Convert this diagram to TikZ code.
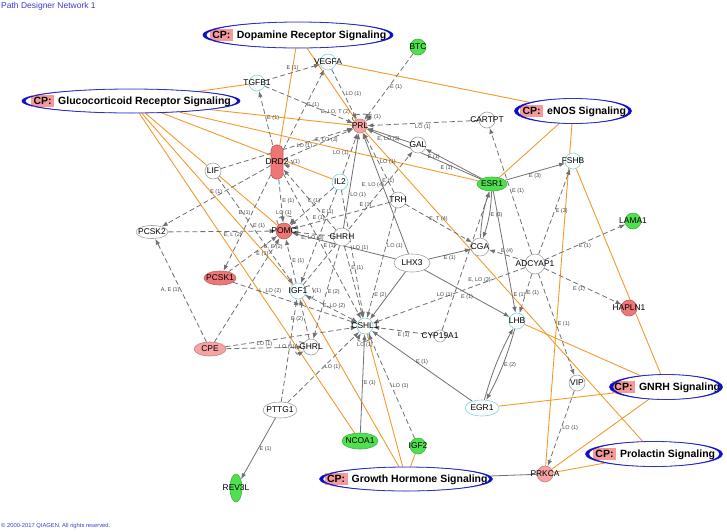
\documentclass[tikz,border=0pt]{standalone}
\usepackage{fontspec}
\setmainfont{Liberation Sans}
\usetikzlibrary{arrows.meta,shapes.geometric,backgrounds}
\definecolor{cpblue}{HTML}{3A3AD0}
\definecolor{cpdark}{HTML}{0A10C8}
\definecolor{cppink}{HTML}{F49A9A}
\definecolor{cporange}{HTML}{F39A2B}
\definecolor{redA}{HTML}{EE7676}
\definecolor{redB}{HTML}{F5A3A3}
\definecolor{greenA}{HTML}{4FE04F}
\definecolor{cyanline}{HTML}{7CD3D8}
\definecolor{plainline}{HTML}{A0A0A0}
\definecolor{edgegray}{HTML}{707070}
\definecolor{titleblue}{HTML}{3B3BD6}
\newcommand{\cptag}{{\setlength{\fboxsep}{2.5pt}\colorbox{cppink}{CP:}}\hspace{4pt}}
% canonical pathway ellipse with thick ends
\newcommand{\cpnode}[5]{%
  \node[cp, minimum width=#3pt, minimum height=#4pt,
    label={[cptext]center:\cptag #5}] (#1) at (#2) {};
  \begin{scope}
    \clip (#1.center) ++({-#3/2-3},{-#4/2-3}) rectangle ++({#3/2+3},{#4+6});
    \fill[cpdark, even odd rule] (#1.center) ellipse [x radius=#3*0.5pt, y radius=#4*0.5pt]
      ([xshift=3.5pt]#1.center) ellipse [x radius=#3*0.5pt, y radius=#4*0.5pt];
  \end{scope}
  \begin{scope}
    \clip (#1.center) ++({#3/2+3},{-#4/2-3}) rectangle ++({-#3/2-3},{#4+6});
    \fill[cpdark, even odd rule] (#1.center) ellipse [x radius=#3*0.5pt, y radius=#4*0.5pt]
      ([xshift=-3pt]#1.center) ellipse [x radius=#3*0.5pt, y radius=#4*0.5pt];
  \end{scope}}

\begin{document}
\begin{tikzpicture}[x=1pt, y=-1pt, >={Latex[length=6pt,width=4.5pt]},
  gene/.style={circle, minimum size=16pt, inner sep=0pt, line width=.6pt,
    label={[gtext]center:#1}},
  gtext/.style={font=\fontsize{8.4}{9}\selectfont, inner sep=0pt},
  gplain/.style={gene=#1, draw=plainline, fill=white},
  gblue/.style={gene=#1, draw=cyanline, fill=white},
  gred/.style={gene=#1, draw=redA!80!black, fill=redA},
  gpink/.style={gene=#1, draw=redB!80!black, fill=redB},
  ggreen/.style={gene=#1, draw=greenA!80!black, fill=greenA},
  cp/.style={ellipse, draw=cpblue, line width=.8pt, fill=white, inner sep=0pt},
  cptext/.style={font=\fontsize{10.5}{12}\selectfont\bfseries, inner sep=0pt},
  dep/.style={->, draw=edgegray, line width=.8pt, dash pattern=on 5pt off 3pt},
  act/.style={->, draw=edgegray, line width=.8pt},
  cpl/.style={draw=cporange, line width=.9pt},
  lbl/.style={font=\fontsize{5.5}{6}\selectfont, text=black!75, inner sep=1pt}]
\useasboundingbox (0,0) rectangle (727,531);

\node[anchor=north west, inner sep=0pt, text=titleblue, font=\fontsize{8.5}{10}\selectfont]
  (title) at (1,2) {Path Designer Network 1};
\node[anchor=south west, inner sep=0pt, text=titleblue, font=\fontsize{5.8}{7}\selectfont]
  (copy) at (1,529) {© 2000-2017 QIAGEN. All rights reserved.};

% pathways
\cpnode{dop}{298,35}{190}{26}{Dopamine Receptor Signaling}
\cpnode{glu}{131,101}{218}{24}{Glucocorticoid Receptor Signaling}
\cpnode{enos}{573,111}{117}{25}{eNOS Signaling}
\cpnode{gnrh}{666,387}{113}{25}{GNRH Signaling}
\cpnode{prol}{654,454}{137}{25}{Prolactin Signaling}
\cpnode{gh}{406,479}{173}{24}{Growth Hormone Signaling}

% molecules
\node[gblue=VEGFA] (vegfa) at (328,62) {};
\node[ggreen=BTC] (btc) at (418,47) {};
\node[gblue=TGFB1] (tgfb1) at (257,83) {};
\node[gpink=PRL, minimum size=14pt] (prl) at (360,126) {};
\node[gplain=CARTPT] (cartpt) at (487,120) {};
\node[gplain=GAL] (gal) at (418,145) {};
\node[gplain=LIF] (lif) at (213,171) {};
\node[gred=DRD2, rectangle, rounded corners=5pt, minimum width=12pt, minimum height=34pt] (drd2) at (277,162) {};
\node[gblue=IL2] (il2) at (340,182) {};
\node[ggreen=ESR1, ellipse, minimum width=30pt, minimum height=14pt] (esr1) at (492,184) {};
\node[gblue=FSHB] (fshb) at (573,161) {};
\node[gplain=TRH] (trh) at (398,200) {};
\node[gred=POMC] (pomc) at (284,231) {};
\node[gplain=PCSK2, ellipse, minimum width=32pt, minimum height=13pt] (pcsk2) at (152,232) {};
\node[gplain=GHRH, minimum size=18pt] (ghrh) at (342,237) {};
\node[gplain=LHX3, ellipse, minimum width=36pt, minimum height=18pt] (lhx3) at (412,263) {};
\node[gplain=CGA, minimum size=18pt] (cga) at (480,247) {};
\node[gplain=ADCYAP1, minimum size=20pt] (adcyap1) at (535,264) {};
\node[ggreen=LAMA1] (lama1) at (633,221) {};
\node[gred=PCSK1, ellipse, minimum width=32pt, minimum height=14pt] (pcsk1) at (220,278) {};
\node[gblue=IGF1] (igf1) at (298,291) {};
\node[gblue=CSHL1] (cshl1) at (365,326) {};
\node[gred=HAPLN1] (hapln1) at (629,308) {};
\node[gplain=CYP19A1, minimum size=12pt] (cyp19a1) at (440,336) {};
\node[gblue=LHB] (lhb) at (517,321) {};
\node[gpink=CPE, ellipse, minimum width=32pt, minimum height=14pt] (cpe) at (210,349) {};
\node[gplain=GHRL] (ghrl) at (311,347) {};
\node[gplain=VIP] (vip) at (577,383) {};
\node[gblue=EGR1, ellipse, minimum width=34pt, minimum height=16pt] (egr1) at (482,408) {};
\node[gplain=PTTG1, ellipse, minimum width=34pt, minimum height=16pt] (pttg1) at (280,410) {};
\node[ggreen=NCOA1, ellipse, minimum width=36pt, minimum height=16pt] (ncoa1) at (360,441) {};
\node[ggreen=IGF2] (igf2) at (418,446) {};
\node[ggreen=REV3L, ellipse, minimum width=12pt, minimum height=28pt] (rev3l) at (236,488) {};
\node[gpink=PRKCA] (prkca) at (545,474) {};

\begin{pgfonlayer}{background}
% pathway membership
\draw[cpl] (dop) -- (drd2);
\draw[cpl] (dop) -- (prl);
\draw[cpl] (glu) -- (tgfb1);
\draw[cpl] (glu) -- (prl);
\draw[cpl] (glu) -- (esr1);
\draw[cpl] (glu) -- (il2);
\draw[cpl] (glu) -- (pomc);
\draw[cpl] (glu) -- (igf1);
\draw[cpl] (glu) -- (ncoa1);
\draw[cpl] (enos) -- (vegfa);
\draw[cpl] (enos) -- (esr1);
\draw[cpl] (enos) -- (prkca);
\draw[cpl] (gnrh) -- (fshb);
\draw[cpl] (gnrh) -- (lhb);
\draw[cpl] (gnrh) -- (egr1);
\draw[cpl] (gnrh) -- (prkca);
\draw[cpl] (prol) -- (prl);
\draw[cpl] (prol) -- (prkca);
\draw[cpl] (gh) -- (igf1);
\draw[cpl] (gh) -- (cshl1);
\draw[cpl] (gh) -- (igf2);
\draw[draw=edgegray, line width=.8pt] (gh) -- (prkca);

% into PRL
\draw[dep] (btc) -- node[lbl, pos=.5, right] {E (1)} (prl);
\draw[dep] (vegfa) -- node[lbl, pos=.5, right] {LO (1)} (prl);
\draw[dep] (tgfb1) -- node[lbl, pos=.8, above] {E, LO, T (2)} (prl);
\draw[dep] (tgfb1) -- node[lbl, pos=.5, above] {E (1)} (vegfa);
\draw[dep] (drd2) -- node[lbl, pos=.55, right] {E (1)} (vegfa);
\draw[dep] (drd2) -- node[lbl, pos=.5, right] {E (1)} (tgfb1);
\draw[dep] (drd2) -- node[lbl, pos=.3, above] {LO (1)} (prl);
\draw[dep] (lif) -- node[lbl, pos=.8, below] {E, LO (3)} (prl);
\draw[dep] (cartpt) -- node[lbl, pos=.5, below] {LO (1)} (prl);
\draw[act] (gal) -- node[lbl, pos=.5, below] {E, LO (3)} (prl);
\draw[act] (esr1) -- node[lbl, pos=.3, below] {E (1)} (prl);
\draw[act] (esr1) -- node[lbl, pos=.85, below] {E (1)} (gal);
\draw[dep] (trh) -- node[lbl, pos=.5, right] {LO (1)} (prl);
\draw[dep] (il2) -- node[lbl, pos=.5, left] {LO (1)} (prl);
\draw[act] (lhx3) -- node[lbl, pos=.6, right] {E (1)} (prl);
\draw[act] (ghrh) -- node[lbl, pos=.35, right] {LO (1)} (prl);
\draw[dep] (prl) to[out=140, in=40, min distance=14pt] node[lbl, pos=.8, right] {E (1)} (prl);
\draw[dep] (igf1) -- node[lbl, pos=.75, left] {E, LO (4)} (gal);

% POMC and processing enzymes
\draw[dep] (drd2) -- node[lbl, pos=.5, above] {E (1)} (pcsk2);
\draw[dep] (drd2) -- node[lbl, pos=.5, right] {E (1)} (pomc);
\draw[dep] (drd2) -- node[lbl, pos=.4, left] {E (1)} (pcsk1);
\draw[dep] (ghrh) -- node[lbl, pos=.3, right] {E (1)} (drd2);
\draw[dep] (drd2) to[out=20, in=-20, min distance=12pt] node[lbl, right] {(1)} (drd2);
\draw[dep] (pcsk2) -- node[lbl, pos=.6, below] {E, L (2)} (pomc);
\draw[dep] (pcsk1) -- node[lbl, pos=.7, right] {E, E (2)} (pomc);
\draw[dep] (cpe) -- node[lbl, pos=.85, left] {E (1)} (pomc);
\draw[dep] (cpe) -- node[lbl, pos=.5, left] {A, E (1)} (pcsk2);
\draw[dep] (lif) -- node[lbl, pos=.45, right] {E (1)} (igf1);
\draw[dep] (igf1) -- node[lbl, pos=.5, right] {E (1)} (pomc);
\draw[dep] (il2) -- node[lbl, pos=.45, above] {E (1)} (pomc);
\draw[dep] (trh) -- node[lbl, pos=.25, above] {E (1)} (pomc);
\draw[act] (lhx3) -- (pomc);
\draw[dep] (ghrh) -- node[lbl, pos=.5, below] {E, LO (3)} (pomc);
\draw[dep] (pomc) to[out=130, in=50, min distance=14pt] node[lbl, above] {LO (1)} (pomc);

% into CSHL1
\draw[dep] (igf1) -- node[lbl, pos=.55, above] {E, LO (2)} (cshl1);
\draw[dep] (pcsk1) -- node[lbl, pos=.3, above] {L, LO (2)} (cshl1);
\draw[dep] (cpe) -- (cshl1);
\draw[dep] (cpe) -- node[lbl, pos=.5, above] {LO (1)} (ghrl);
\draw[dep] (ghrh) -- node[lbl, pos=.5, right] {E (2)} (ghrl);
\draw[dep] (ghrl) -- node[lbl, pos=.5, left] {E (2)} (igf1);
\draw[dep] (ghrl) to[out=150, in=210, min distance=12pt] node[lbl, left] {LO (1)} (ghrl);
\draw[dep] (igf1) to[out=30, in=-30, min distance=12pt] node[lbl, right] {(1)} (igf1);
\draw[dep] (pttg1) -- (igf1);
\draw[dep] (pttg1) -- node[lbl, pos=.5, right] {LO (1)} (cshl1);
\draw[act] (pttg1) -- node[lbl, pos=.5, right] {E (1)} (rev3l);
\draw[dep] (il2) -- node[lbl, pos=.3, left] {E (1)} (igf1);
\draw[dep] (il2) -- node[lbl, pos=.45, right] {LO (1)} (cshl1);
\draw[dep] (ghrh) -- node[lbl, pos=.3, right] {E (1)} (cshl1);
\draw[dep] (drd2) -- node[lbl, pos=.5, right] {E (1)} (cshl1);
\draw[dep] (trh) -- node[lbl, pos=.35, right] {LO (1)} (cshl1);
\draw[act] (lhx3) -- node[lbl, pos=.5, left] {E (2)} (cshl1);
\draw[dep] (adcyap1) -- node[lbl, pos=.3, above] {E, LO (3)} (cshl1);
\draw[dep] (cyp19a1) -- node[lbl, pos=.5, below] {E (1)} (cshl1);
\draw[act] (egr1) -- node[lbl, pos=.5, above] {E (1)} (cshl1);
\draw[act] (ncoa1) -- node[lbl, pos=.5, right] {E (1)} (cshl1);
\draw[dep] (igf2) -- node[lbl, pos=.5, right] {LO (1)} (cshl1);
\draw[dep] (cshl1) to[out=-60, in=-120, min distance=12pt] node[lbl, below] {LO (1)} (cshl1);

% ESR1, ADCYAP1 and the gonadotropins
\draw[act] (esr1) -- node[lbl, pos=.5, below] {E (3)} (fshb);
\draw[act] (esr1) to[bend left=8] node[lbl, right] {E (3)} (cga);
\draw[act] (cga) to[bend left=8] (esr1);
\draw[act] (esr1) -- node[lbl, pos=.85, right] {E (1)} (lhb);
\draw[dep] (cyp19a1) -- node[lbl, pos=.25, left] {LO (1)} (esr1);
\draw[dep] (adcyap1) -- node[lbl, pos=.5, right] {E (1)} (cartpt);
\draw[dep] (adcyap1) -- node[lbl, pos=.5, right] {E (3)} (fshb);
\draw[dep] (adcyap1) -- node[lbl, pos=.5, below] {E (1)} (lama1);
\draw[dep] (adcyap1) -- node[lbl, pos=.45, below] {E (1)} (hapln1);
\draw[dep] (adcyap1) -- node[lbl, pos=.5, above] {E (4)} (cga);
\draw[dep] (adcyap1) -- node[lbl, pos=.5, right] {E (1)} (lhb);
\draw[dep] (adcyap1) -- node[lbl, pos=.5, right] {E (1)} (vip);
\draw[dep] (trh) -- node[lbl, pos=.5, above] {E, T (4)} (cga);
\draw[act] (lhx3) -- node[lbl, pos=.5, below] {E (1)} (cga);
\draw[act] (lhx3) -- node[lbl, pos=.5, below] {E (1)} (lhb);
\draw[act] (lhb) to[bend left=6] node[lbl, right] {E (2)} (egr1);
\draw[act] (egr1) to[bend left=6] (lhb);
\draw[dep] (vip) -- node[lbl, pos=.5, right] {LO (1)} (prkca);
\end{pgfonlayer}
\end{tikzpicture}
\end{document}
